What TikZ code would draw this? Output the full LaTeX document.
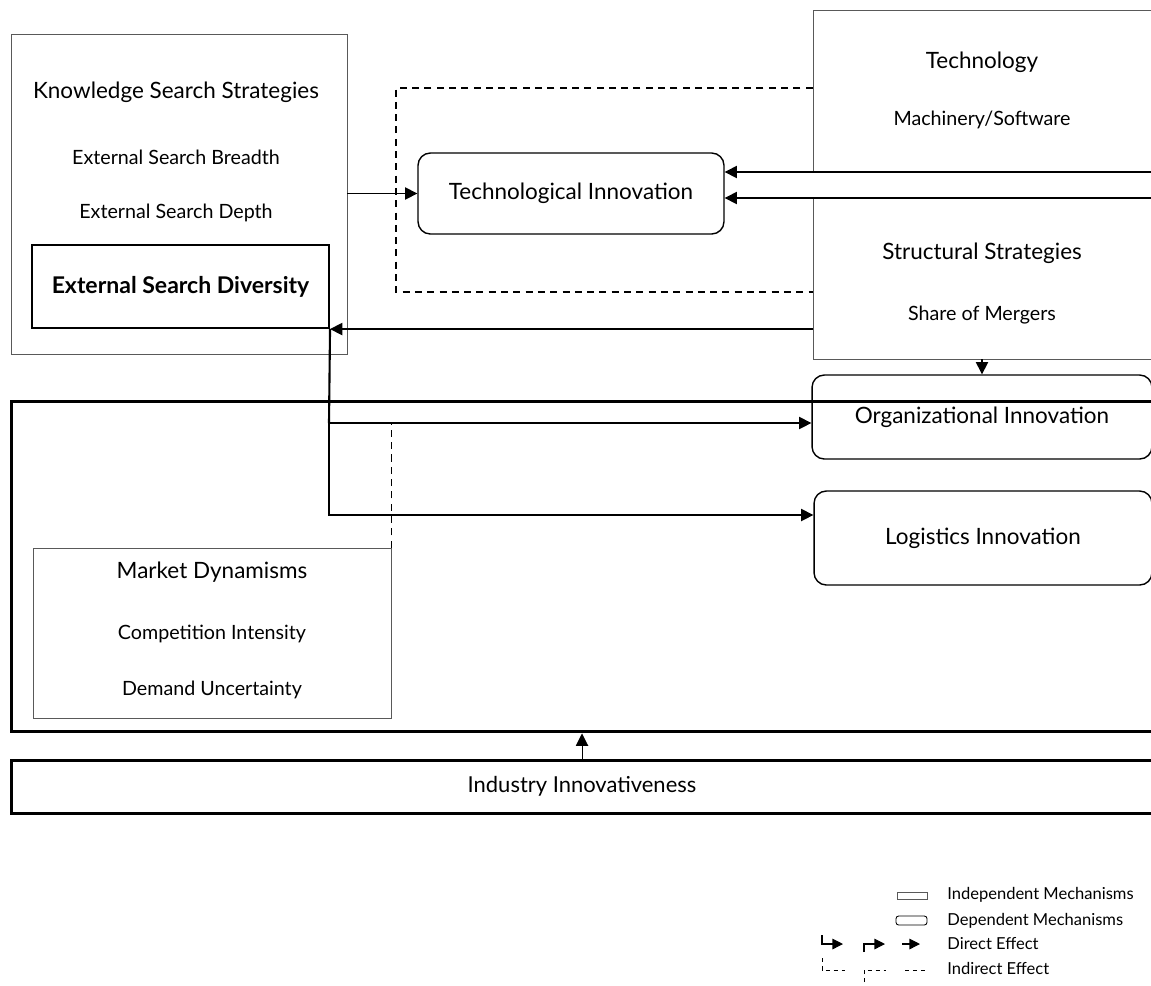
\documentclass[tikz,border=0pt]{standalone}
\usepackage{fontspec}
\setmainfont{Lato}
\usetikzlibrary{arrows.meta}

\tikzset{
  indep/.style={draw=black!65, line width=0.5pt, inner sep=0pt},
  dep/.style={draw, line width=0.8pt, rounded corners=7pt, inner sep=0pt},
  heavy/.style={draw, line width=1.7pt, inner sep=0pt},
  title/.style={font=\fontsize{12.8}{15}\selectfont},
  item/.style={font=\fontsize{11.2}{13}\selectfont},
  direct/.style={line width=0.8pt, -{Triangle[length=7pt,width=7pt]}},
  indirect/.style={line width=0.7pt, dash pattern=on 4pt off 3pt},
  legtext/.style={font=\fontsize{9.4}{11}\selectfont, anchor=west, inner sep=0pt},
  legtip/.style={line width=0.6pt, -{Triangle[length=6pt,width=6pt]}}
}

\begin{document}
\begin{tikzpicture}[x=0.02cm, y=-0.02cm]
\useasboundingbox (0,0) rectangle (1151,985);

% independent mechanisms
\node[indep, minimum width=6.72cm, minimum height=6.4cm] (kss) at (179,194) {};
\node[title] (ksst) at (176,92) {Knowledge Search Strategies};
\node[item] (breadth) at (176,157) {External Search Breadth};
\node[item] (depth) at (176,213) {External Search Depth};
\node[draw, line width=1.2pt, inner sep=0pt, minimum width=5.94cm, minimum height=1.66cm,
      font=\fontsize{13.1}{15}\selectfont\bfseries] (esd) at (180.5,286.5) {External Search Diversity};

\node[indep, minimum width=7.74cm, minimum height=3.24cm] (tech) at (1006.5,91) {};
\node[title] (techt) at (982,62) {Technology};
\node[item] (machine) at (982,120) {Machinery/Software};

\node[indep, minimum width=7.74cm, minimum height=3.22cm] (struct) at (1006.5,278.5) {};
\node[title] (structt) at (982,253) {Structural Strategies};
\node[item] (merger) at (982,315) {Share of Mergers};

\node[heavy, minimum width=23.78cm, minimum height=6.62cm] (frame) at (605.5,566.5) {};

\node[indep, minimum width=7.16cm, minimum height=3.4cm] (mkt) at (212,633) {};
\node[title] (mktt) at (212,572) {Market Dynamisms};
\node[item] (compet) at (212,634) {Competition Intensity};
\node[item] (demand) at (212,690) {Demand Uncertainty};

\node[heavy, minimum width=23.78cm, minimum height=1.06cm] (ind) at (605.5,786.5) {};
\node[font=\fontsize{12.5}{15}\selectfont] (indt) at (582,786) {Industry Innovativeness};

% dependent mechanisms
\node[dep, title, minimum width=6.12cm, minimum height=1.62cm] (ti) at (571,193.5) {Technological Innovation};
\node[dep, title, minimum width=6.8cm, minimum height=1.68cm] (org) at (982,417) {Organizational Innovation};
\node[dep, title, minimum width=6.76cm, minimum height=1.88cm] (log) at (983,538) {Logistics Innovation};

% connectors
\coordinate (dtop) at (396,88);
\coordinate (dbot) at (396,292);
\coordinate (r1) at (1151,172);
\coordinate (r2) at (1151,198);
\coordinate (j1) at (329,423);
\coordinate (j2) at (329,515);

\draw[direct] (kss.east |- ti.west) -- (ti.west);
\draw[indirect] (tech.west |- dtop) -- (dtop) -- (dbot) -- (struct.west |- dbot);
\draw[direct] (r1) -- (ti.east |- r1);
\draw[direct] (r2) -- (ti.east |- r2);
\draw[direct] (struct.west |- esd.south east) -- (esd.south east);
\draw[direct] (org.north |- struct.south) -- (org.north);
\draw[line width=1.2pt] (esd.south east) -- (j1);
\draw[direct] (j1) -- (org.west |- j1);
\draw[direct] (j1) -- (j2) -- (log.west |- j2);
\draw[indirect] (mkt.north east) -- (mkt.north east |- j1);
\draw[direct, line width=0.5pt] (indt |- ind.north) -- (indt |- frame.south);

% legend
\node[draw=black!65, line width=0.5pt, minimum width=0.6cm, minimum height=0.13cm, inner sep=0pt] (lind) at (912,896) {};
\node[draw, line width=0.5pt, rounded corners=1.5pt, minimum width=0.62cm, minimum height=0.18cm, inner sep=0pt] (ldep) at (911.5,920.5) {};
\node[legtext] (lindt) at (947,895) {Independent Mechanisms};
\node[legtext] (ldept) at (947,921) {Dependent Mechanisms};
\node[legtext] (ldirt) at (947,943) {Direct Effect};
\node[legtext] (lindirt) at (947,968) {Indirect Effect};

\draw[legtip] (822,935) -- (822,944) -- (843,944);
\draw[legtip] (864,952) -- (864,944) -- (885,944);
\draw[legtip] (902,944) -- (920,944);
\draw[indirect, line width=0.5pt, dash pattern=on 2.5pt off 2pt] (822,958) -- (822,970) -- (845,970);
\draw[indirect, line width=0.5pt, dash pattern=on 2.5pt off 2pt] (864,990) -- (864,970) -- (886,970);
\draw[indirect, line width=0.5pt, dash pattern=on 2.5pt off 2pt] (905,970) -- (925,970);
\end{tikzpicture}
\end{document}
